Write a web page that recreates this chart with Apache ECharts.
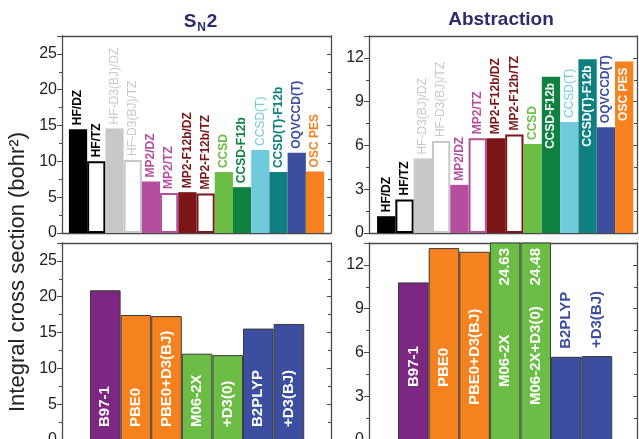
<!DOCTYPE html>
<html><head><meta charset="utf-8">
<script src="https://cdn.jsdelivr.net/npm/echarts@6/dist/echarts.min.js"></script>
<style>html,body{margin:0;padding:0;background:#fff}#c{width:639px;height:439px}</style>
</head><body><div id="c"></div>
<script>
// ---------- data ----------
const topNames = ['HF/DZ','HF/TZ','HF-D3(BJ)/DZ','HF-D3(BJ)/TZ','MP2/DZ','MP2/TZ','MP2-F12b/DZ','MP2-F12b/TZ','CCSD','CCSD-F12b','CCSD(T)','CCSD(T)-F12b','OQVCCD(T)','OSC PES'];
const sn2TopValues = [14.5, 10.0, 14.6, 10.2, 7.2, 5.6, 5.7, 5.5, 8.5, 6.4, 11.6, 8.5, 11.2, 8.6];
const absTopValues = [1.15, 2.3, 5.1, 6.3, 3.3, 6.5, 6.5, 6.75, 6.1, 10.7, 7.6, 11.9, 7.25, 11.75];
const topColors = ['#000000','#000000','#c8c8c8','#c8c8c8','#b64e9e','#b64e9e','#7c1518','#7c1518','#6cbd45','#0f8140','#6fcbdc','#0e807f','#3b4ea0','#f5821f'];
const topHollow = [false,true,false,true,false,true,false,true,false,false,false,false,false,false];
const topLight = [false,false,true,true,false,false,false,false,false,false,true,false,false,false];
const absTopInside = [false,false,false,false,false,false,false,false,false,true,false,true,false,true];

const sn2BottomNames = ['B97-1','PBE0','PBE0+D3(BJ)','M06-2X','+D3(0)','B2PLYP','+D3(BJ)'];
const sn2BottomValues = [20.9, 17.45, 17.3, 12.05, 11.85, 15.55, 16.2];
const absBottomNames = ['B97-1','PBE0','PBE0+D3(BJ)','M06-2X','M06-2X+D3(0)','B2PLYP','+D3(BJ)'];
const absBottomValues = [10.8, 13.15, 12.9, 24.63, 24.48, 5.7, 5.75];
const bottomColors = ['#7c2781','#f5821f','#f5821f','#6cbd45','#6cbd45','#3b4ea0','#3b4ea0'];
const absBottomAbove = [false,false,false,false,false,true,true];

const sn2YTicks = {max: 27.5, step: 5};
const absYTicks = {max: 13.5, step: 3};

// ---------- layout ----------
const FONT = "'Liberation Sans', Arial, sans-serif";
const FRAME = '#4a4a4a';
const TITLE = '#2b2d6e';
const panels = [
  {grid:{left:62, top:36, width:269, height:197}, xr:[0.12,14.88], y:sn2YTicks},
  {grid:{left:369, top:36, width:268, height:197}, xr:[0.06,14.7], y:absYTicks},
  {grid:{left:62, top:243, width:269, height:197}, xr:[-0.415,8.375], y:sn2YTicks},
  {grid:{left:369, top:243, width:268, height:197}, xr:[-0.45,8.31], y:absYTicks}
];

const grid = [], xAxis = [], yAxis = [];
panels.forEach((p, i) => {
  grid.push(Object.assign({show:false, containLabel:false, outerBoundsMode:'none'}, p.grid));
  ['bottom','top'].forEach(pos => xAxis.push({
    type:'value', gridIndex:i, position:pos, min:p.xr[0], max:p.xr[1],
    axisLine:{show:true, onZero:false, lineStyle:{color:FRAME, width:1.3}},
    axisTick:{show:false}, axisLabel:{show:false}, splitLine:{show:false}
  }));
  yAxis.push({
    type:'value', gridIndex:i, position:'left', min:0, max:p.y.max, interval:p.y.step,
    axisLine:{show:true, onZero:false, lineStyle:{color:FRAME, width:1.3}},
    axisTick:{show:true, length:5, lineStyle:{color:FRAME}},
    minorTick:{show:true, splitNumber:2, length:3, lineStyle:{color:FRAME}},
    axisLabel:{show:true, fontSize:16, color:'#222', fontFamily:FONT, margin:5, showMaxLabel:false},
    splitLine:{show:false}, minorSplitLine:{show:false}
  });
  yAxis.push({
    type:'value', gridIndex:i, position:'right', min:0, max:p.y.max, interval:p.y.step,
    axisLine:{show:true, onZero:false, lineStyle:{color:FRAME, width:1.3}},
    axisTick:{show:true, inside:true, length:4, lineStyle:{color:FRAME}},
    minorTick:{show:true, splitNumber:2, length:3, lineStyle:{color:FRAME}},
    axisLabel:{show:false}, splitLine:{show:false}
  });
});
const bw = i => panels[i].grid.width / (panels[i].xr[1] - panels[i].xr[0]);

function topData(values, inside) {
  return values.map((v, k) => {
    const c = topColors[k];
    const isIn = inside && inside[k];
    return {
      name: topNames[k], value: [k + 1, v],
      itemStyle: {color: topHollow[k] ? '#ffffff' : c, borderColor: c, borderWidth: topHollow[k] ? 2 : 0},
      label: {
        show: true, formatter: '{b}', rotate: 90, verticalAlign: 'middle',
        position: isIn ? 'insideTop' : 'top', align: isIn ? 'right' : 'left', distance: isIn ? 6 : 4,
        color: isIn ? '#ffffff' : c, fontSize: 12, fontFamily: FONT,
        fontWeight: topLight[k] ? 'normal' : 'bold'
      }
    };
  });
}
function bottomData(names, values, above, dist) {
  return values.map((v, k) => {
    const up = above && above[k];
    return {
      name: names[k], value: [k + 1, v],
      itemStyle: {color: bottomColors[k], borderColor: '#3a3a3a', borderWidth: 1},
      label: {
        show: true, formatter: '{b}', rotate: 90, verticalAlign: 'middle',
        position: up ? 'top' : 'insideBottom', align: 'left',
        distance: up ? 8 : (typeof dist === 'function' ? dist(k) : dist),
        color: up ? bottomColors[k] : '#ffffff', fontSize: 15, fontWeight: 'bold', fontFamily: FONT
      }
    };
  });
}

const series = [
  {type:'bar', xAxisIndex:0, yAxisIndex:0, barWidth:bw(0), clip:true, data: topData(sn2TopValues, null)},
  {type:'bar', xAxisIndex:2, yAxisIndex:2, barWidth:bw(1), clip:true, data: topData(absTopValues, absTopInside)},
  {type:'bar', xAxisIndex:4, yAxisIndex:4, barWidth:bw(2), clip:true, data: bottomData(sn2BottomNames, sn2BottomValues, null, 13)},
  {type:'bar', xAxisIndex:6, yAxisIndex:6, barWidth:bw(3), clip:true,
   data: bottomData(absBottomNames, absBottomValues, absBottomAbove, k => (absBottomNames[k].length > 10 ? 35 : 53))},
  {type:'bar', xAxisIndex:6, yAxisIndex:6, barWidth:bw(3), barGap:'-100%', clip:true, silent:true,
   data: absBottomValues.map((v, k) => [k + 1, v]),
   itemStyle:{color:'rgba(0,0,0,0)'},
   label:{show:true, position:'insideTop', rotate:90, align:'right', verticalAlign:'middle', distance:5,
     color:'#ffffff', fontSize:15, fontWeight:'bold', fontFamily:FONT,
     formatter: p => (p.value[1] > absYTicks.max ? p.value[1].toFixed(2) : '')}}
];

const chart = echarts.init(document.getElementById('c'), null, {renderer:'canvas'});
chart.setOption({
  animation:false,
  backgroundColor:'#ffffff',
  grid, xAxis, yAxis, series,
  graphic:[
    {type:'text', x:18, y:272, rotation:Math.PI/2,
     style:{text:'Integral cross section (bohr²)', fill:'#222', font:"22px 'Liberation Sans', Arial, sans-serif", align:'center', verticalAlign:'middle'}},
    {type:'text', x:190, y:22,
     style:{text:'S', fill:TITLE, font:"bold 19px 'Liberation Sans', Arial, sans-serif", align:'center', verticalAlign:'middle'}},
    {type:'text', x:201.5, y:27.5,
     style:{text:'N', fill:TITLE, font:"bold 12px 'Liberation Sans', Arial, sans-serif", align:'center', verticalAlign:'middle'}},
    {type:'text', x:212, y:22,
     style:{text:'2', fill:TITLE, font:"bold 19px 'Liberation Sans', Arial, sans-serif", align:'center', verticalAlign:'middle'}},
    {type:'text', x:501, y:20,
     style:{text:'Abstraction', fill:TITLE, font:"bold 19px 'Liberation Sans', Arial, sans-serif", align:'center', verticalAlign:'middle'}}
  ]
});
</script></body></html>
